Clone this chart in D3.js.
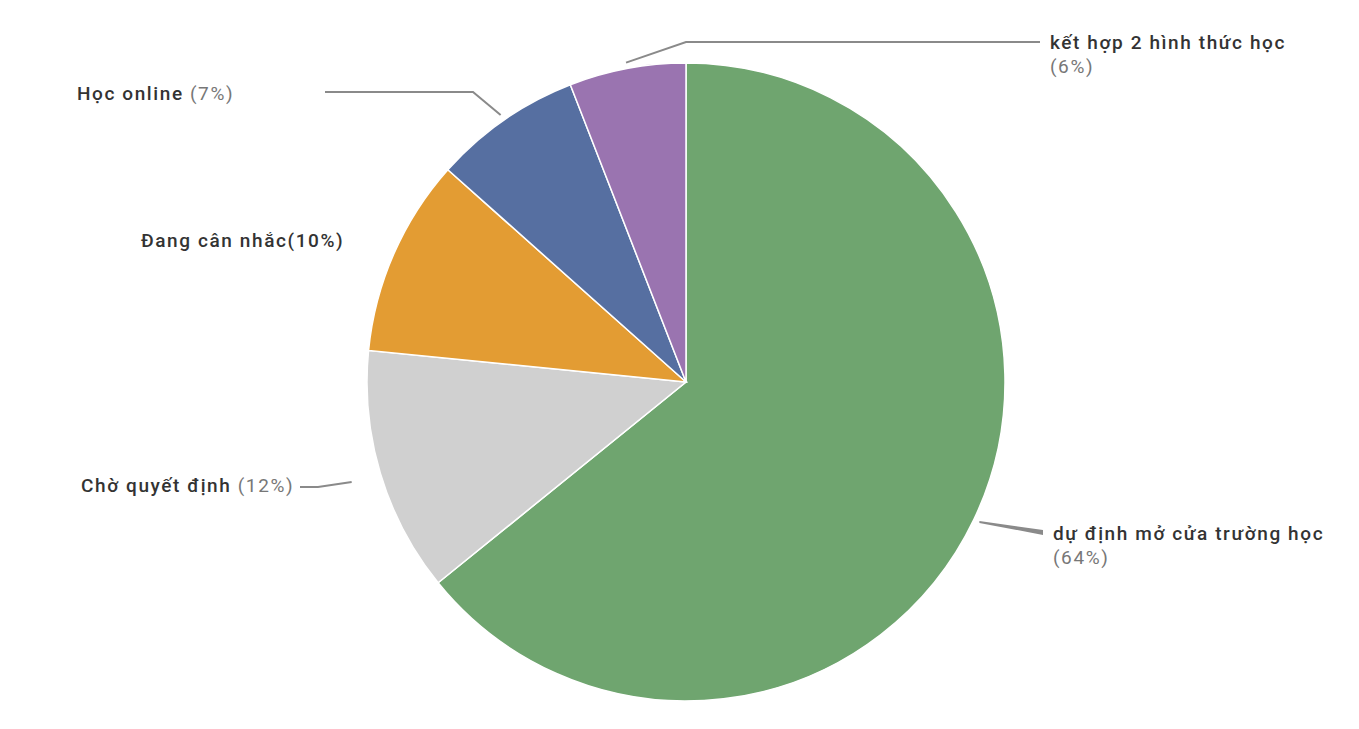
<!DOCTYPE html>
<html><head><meta charset="utf-8">
<script src="https://cdn.jsdelivr.net/npm/d3@7"></script>
<style>body{margin:0;background:#fff}svg{display:block}</style>
</head><body>
<svg id="c" width="1359" height="729"></svg>
<script>
const categories = ["dự định mở cửa trường học","Chờ quyết định","Đang cân nhắc","Học online","kết hợp 2 hình thức học"];
const values = [64.1, 12.4, 10.0, 7.5, 5.9];
const pctLabels = ["(64%)","(12%)","(10%)","(7%)","(6%)"];
const colors = ["#6fa56f","#d0d0d0","#e39c33","#566fa1","#9a74b0"];

// label layout (positions of text and elbows)
const layout = [
  {tx:1053, ty:533, two:true, elbow:[1043,533], start:6},
  {tx:81, ty:485, two:false, sep:" ", elbow:[318,487], end:[300,487], start:30},
  {tx:141, ty:240, two:false, sep:"", line:false},
  {tx:77, ty:93, two:false, sep:" ", elbow:[473,92], end:[325,92], start:6},
  {tx:1050, ty:42, two:true, elbow:[686,42], end:[1040,42], start:6}
];

const svg = d3.select("#c");
const cx = 686, cy = 382, r = 319;
const pie = d3.pie().sort(null).value(d=>d)(values);
const arc = d3.arc().innerRadius(0).outerRadius(r);
const g = svg.append("g").attr("transform",`translate(${cx},${cy})`);
g.selectAll("path").data(pie).join("path")
  .attr("d",arc).attr("fill",(d,i)=>colors[i])
  .attr("stroke","#fff").attr("stroke-width",1.5);

pie.forEach((d,i)=>{
  const L = layout[i];
  if (L.line === false) return;
  const a = (d.startAngle+d.endAngle)/2;
  const rr = r + L.start;
  const p0 = [cx + rr*Math.sin(a), cy - rr*Math.cos(a)];
  if (i === 0) {
    svg.append("path")
      .attr("d", `M${p0[0]},${p0[1]-1} L${L.elbow[0]},${L.elbow[1]-3} L${L.elbow[0]},${L.elbow[1]+2} L${p0[0]},${p0[1]+1}Z`)
      .attr("fill","#8a8a8a");
    return;
  }
  const pts = [p0, L.elbow, L.end];
  svg.append("path").attr("d", d3.line()(pts))
    .attr("fill","none").attr("stroke","#8a8a8a").attr("stroke-width",2);
});

const font = "Roboto, 'Noto Sans', sans-serif";
const fs = "19px", ls = "1.6px";
categories.forEach((c,i)=>{
  const L = layout[i];
  const t = svg.append("text").attr("x",L.tx).attr("y",L.ty)
    .attr("dominant-baseline","central")
    .style("font-family",font).style("font-size",fs).style("letter-spacing",ls);
  t.append("tspan").text(c).attr("fill","#333").style("font-weight",500);
  if (L.two) {
    svg.append("text").attr("x",L.tx).attr("y",L.ty+24)
      .attr("dominant-baseline","central")
      .style("font-family",font).style("font-size",fs).style("letter-spacing",ls)
      .attr("fill","#777").text(pctLabels[i]);
  } else {
    const ps = t.append("tspan").text(L.sep + pctLabels[i]);
    if (i === 2) ps.attr("fill","#333").style("font-weight",500);
    else ps.attr("fill","#777");
  }
});
</script>
</body></html>
